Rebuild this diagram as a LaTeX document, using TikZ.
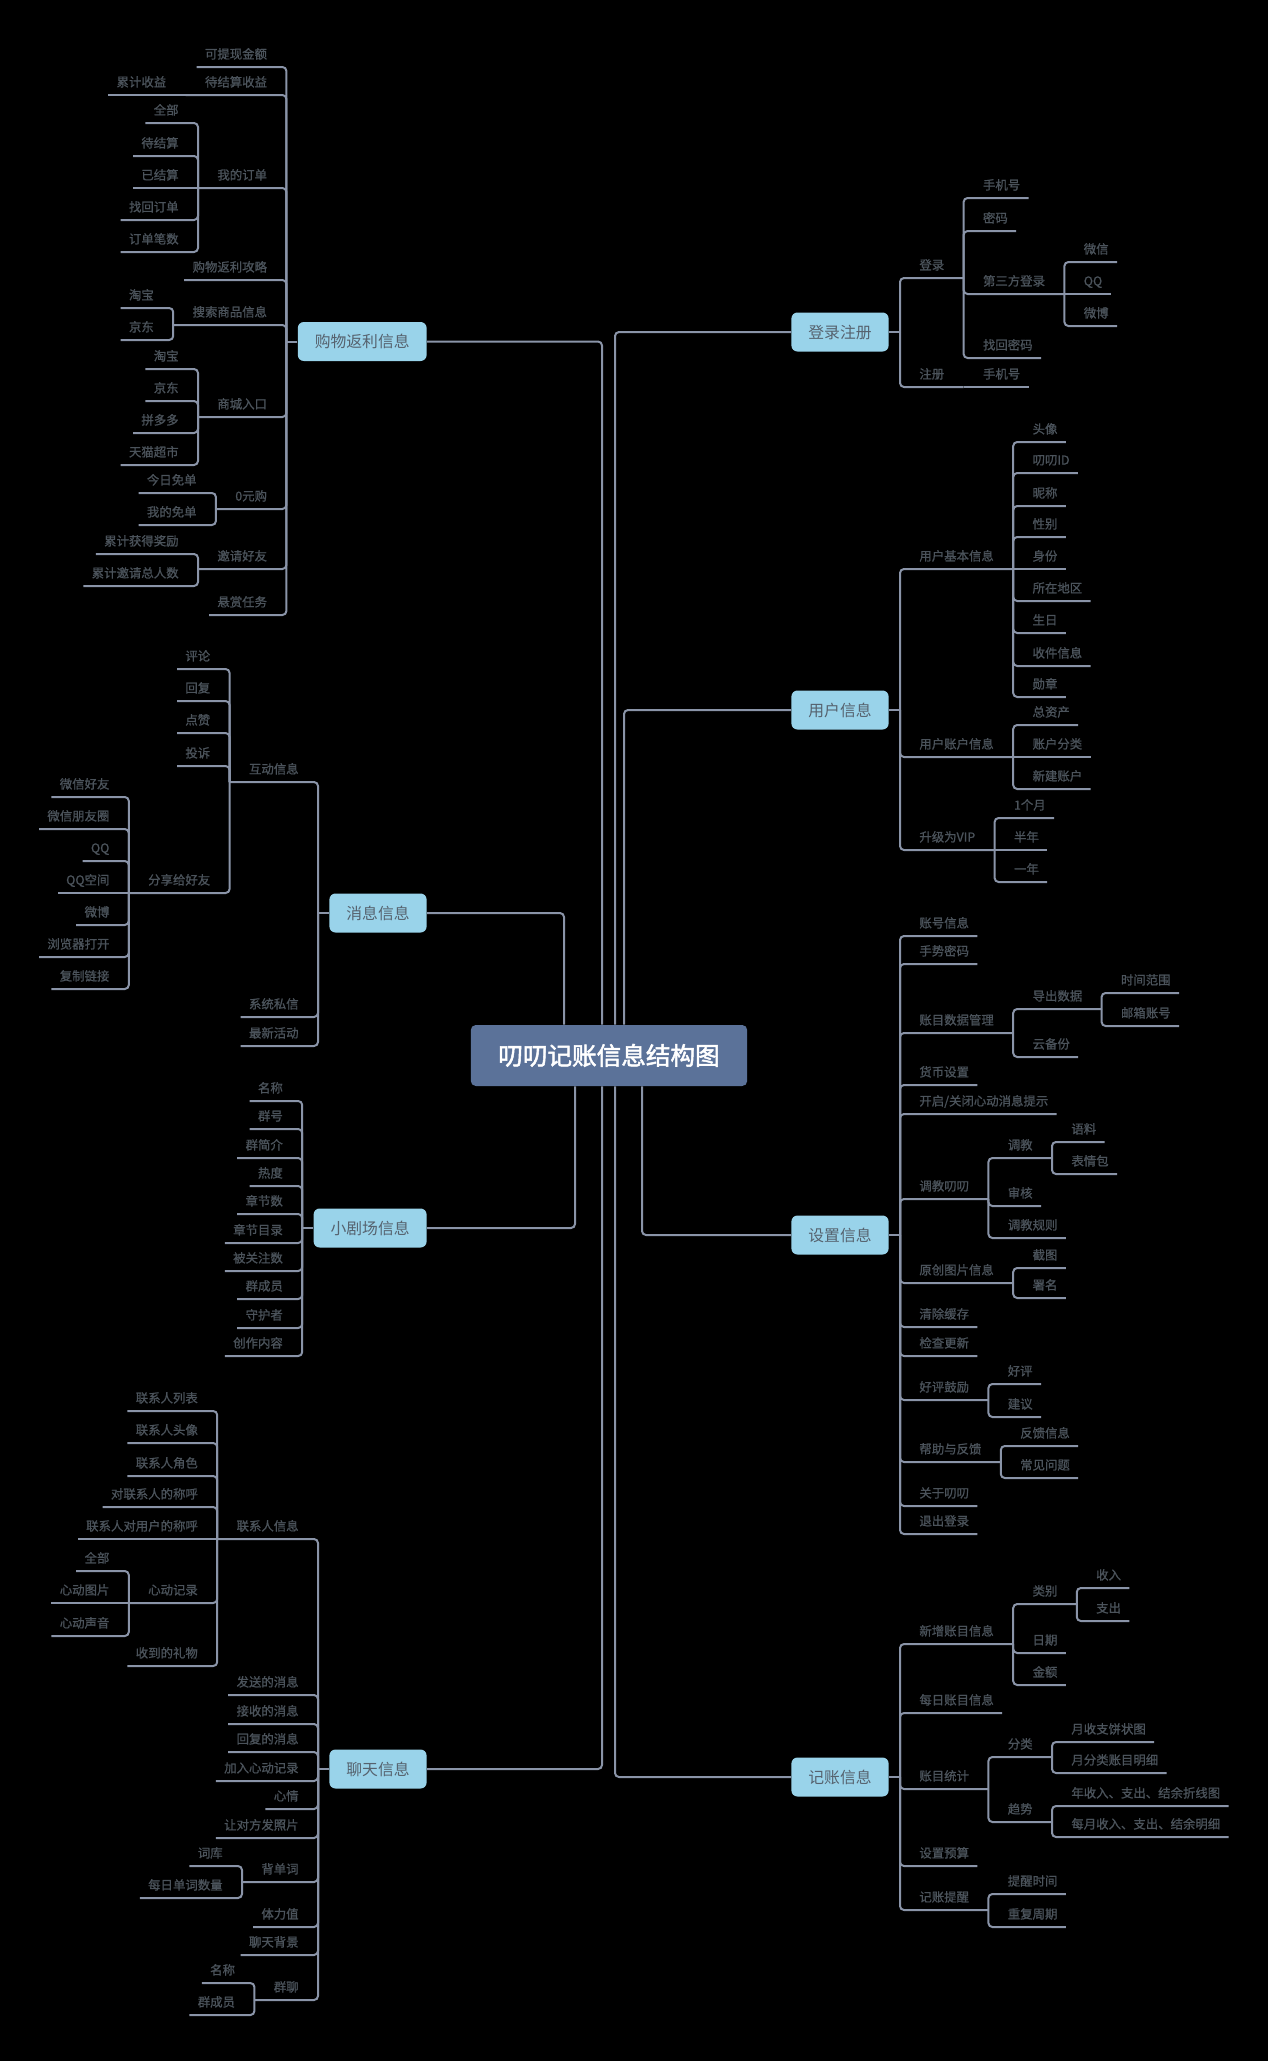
\documentclass[tikz,border=0pt]{standalone}
\usepackage{fontspec}
\newfontfamily\cjk{Noto Sans CJK SC}
\newfontfamily\cjkm[FakeBold=1]{Noto Sans CJK SC}
\newfontfamily\cjkbf[FakeBold=2]{Noto Sans CJK SC}

\definecolor{linec}{HTML}{8A94A8}
\definecolor{txtc}{HTML}{4B535B}
\definecolor{boxc}{HTML}{99D3EA}
\definecolor{boxtxt}{HTML}{56626E}
\definecolor{rootc}{HTML}{5B7299}

\tikzset{
  mmline/.style={draw=linec, line width=1pt},
  rpar/.style={anchor=south west, inner xsep=9.5pt, inner ysep=4pt, text height=5.46pt, text depth=0pt,
    text=txtc, font=\cjkm\fontsize{6.2pt}{7pt}\selectfont},
  rleaf/.style={rpar, inner xsep=4pt, xshift=5.5pt},
  lpar/.style={rpar, anchor=south east},
  lleaf/.style={lpar, inner xsep=4pt, xshift=-5.5pt},
  topic/.style={fill=boxc, rounded corners=3pt, text=boxtxt, font=\cjk\fontsize{7.9pt}{9pt}\selectfont,
    inner xsep=8.5pt, inner ysep=0pt, minimum height=19.5pt, text height=6.95pt, text depth=0.95pt},
  root/.style={fill=rootc, rounded corners=2.5pt, text=white, font=\cjkbf\fontsize{12.3pt}{14pt}\selectfont,
    inner xsep=13.75pt, inner ysep=0pt, minimum height=30.5pt, text height=10.8pt, text depth=1.5pt}
}

% children to the right of a junction: #1 junction, #2 parent y, #3 name/y/text/style
\newcommand{\rgrp}[3]{%
  \foreach \nm/\yy/\tx/\st in {#3} {
    \node[\st] (\nm) at (#1 |- 0,\yy) {\tx};
    \ifdim\yy pt=#2pt
      \draw[mmline] (#1) -- (\nm.south east);
    \else
      \draw[mmline, rounded corners=2pt] (#1) |- (\nm.south east);
    \fi
  }}
% children to the left of a junction
\newcommand{\lgrp}[3]{%
  \foreach \nm/\yy/\tx/\st in {#3} {
    \node[\st] (\nm) at (#1 |- 0,\yy) {\tx};
    \ifdim\yy pt=#2pt
      \draw[mmline] (#1) -- (\nm.south west);
    \else
      \draw[mmline, rounded corners=2pt] (#1) |- (\nm.south west);
    \fi
  }}

\begin{document}
\begin{tikzpicture}[x=0.5pt,y=-0.5pt]
  \fill[black] (0,0) rectangle (1268,2061); % background
  \useasboundingbox (0,0) rectangle (1268,2061);

  \node[root] (root) at (609,1055.5) {叨叨记账信息结构图}; % central topic

  % main topics
  \node[topic, anchor=east] (gwfl) at (427,341.5) {购物返利信息};
  \node[topic, anchor=east] (xxxx) at (427,913) {消息信息};
  \node[topic, anchor=east] (xjc) at (427,1228) {小剧场信息};
  \node[topic, anchor=east] (ltxx) at (427,1769) {聊天信息};
  \node[topic, anchor=west] (dlzc) at (791,332) {登录注册};
  \node[topic, anchor=west] (yhxx) at (791,710) {用户信息};
  \node[topic, anchor=west] (szxx) at (791,1235) {设置信息};
  \node[topic, anchor=west] (jzxx) at (791,1777) {记账信息};

  % trunk lines to the central topic
  \draw[mmline, rounded corners=2pt] (gwfl.east) -| ([xshift=-3.5pt]root.north);
  \draw[mmline, rounded corners=2pt] (xxxx.east) -| ([xshift=-22.5pt]root.north);
  \draw[mmline, rounded corners=2pt] (xjc.east) -| ([xshift=-17pt]root.south);
  \draw[mmline, rounded corners=2pt] (ltxx.east) -| ([xshift=-3.5pt]root.south);
  \draw[mmline, rounded corners=2pt] (dlzc.west) -| ([xshift=3pt]root.north);
  \draw[mmline, rounded corners=2pt] (yhxx.west) -| ([xshift=7.5pt]root.north);
  \draw[mmline, rounded corners=2pt] (szxx.west) -| ([xshift=16.5pt]root.south);
  \draw[mmline, rounded corners=2pt] (jzxx.west) -| ([xshift=3pt]root.south);

  % junctions beside the main topics
  \foreach \tp in {dlzc,yhxx,szxx,jzxx} {
    \coordinate (\tp b) at ([xshift=5.5pt]\tp.east);
    \draw[mmline] (\tp.east) -- (\tp b);
  }
  \foreach \tp in {gwfl,xxxx,xjc,ltxx} {
    \coordinate (\tp b) at ([xshift=-5.5pt]\tp.west);
    \draw[mmline] (\tp.west) -- (\tp b);
  }

  % 登录注册
  \rgrp{dlzcb}{-1}{dl/278/登录/rpar, zc/387/注册/rpar}
  \rgrp{dl.south east}{278}{dl1/198/手机号/rleaf, dl2/231/密码/rleaf, dl3/294/第三方登录/rpar, dl4/358/找回密码/rleaf}
  \rgrp{dl3.south east}{294}{dl31/262/微信/rleaf, dl32/294/QQ/rleaf, dl33/326/微博/rleaf}
  \rgrp{zc.south east}{387}{zc1/387/手机号/rleaf}

  % 用户信息
  \rgrp{yhxxb}{-1}{jb/569/用户基本信息/rpar, zh/757/用户账户信息/rpar, vip/850/升级为VIP/rpar}
  \rgrp{jb.south east}{569}{jb1/442/头像/rleaf, jb2/473/叨叨ID/rleaf, jb3/506/昵称/rleaf, jb4/537/性别/rleaf,
    jb5/569/身份/rleaf, jb6/601/所在地区/rleaf, jb7/633/生日/rleaf, jb8/666/收件信息/rleaf, jb9/697/勋章/rleaf}
  \rgrp{zh.south east}{757}{zh1/725/总资产/rleaf, zh2/757/账户分类/rleaf, zh3/789/新建账户/rleaf}
  \rgrp{vip.south east}{850}{vip1/818/1个月/rleaf, vip2/850/半年/rleaf, vip3/882/一年/rleaf}

  % 设置信息
  \rgrp{szxxb}{-1}{sz1/936/账号信息/rleaf, sz2/964/手势密码/rleaf, sz3/1033/账目数据管理/rpar, sz4/1085/货币设置/rleaf,
    sz5/1114/{开启/关闭心动消息提示}/rleaf, sz6/1199/调教叨叨/rpar, sz7/1283/原创图片信息/rpar, sz8/1327/清除缓存/rleaf,
    sz9/1356/检查更新/rleaf, sz10/1400/好评鼓励/rpar, sz11/1462/帮助与反馈/rpar, sz12/1506/关于叨叨/rleaf, sz13/1534/退出登录/rleaf}
  \rgrp{sz3.south east}{1033}{sz31/1009/导出数据/rpar, sz32/1057/云备份/rleaf}
  \rgrp{sz31.south east}{1009}{sz311/993/时间范围/rleaf, sz312/1026/邮箱账号/rleaf}
  \rgrp{sz6.south east}{1199}{sz61/1158/调教/rpar, sz62/1206/审核/rleaf, sz63/1238/调教规则/rleaf}
  \rgrp{sz61.south east}{1158}{sz611/1142/语料/rleaf, sz612/1174/表情包/rleaf}
  \rgrp{sz7.south east}{1283}{sz71/1268/截图/rleaf, sz72/1298/署名/rleaf}
  \rgrp{sz10.south east}{1400}{sz101/1384/好评/rleaf, sz102/1417/建议/rleaf}
  \rgrp{sz11.south east}{1462}{sz111/1446/反馈信息/rleaf, sz112/1478/常见问题/rleaf}

  % 记账信息
  \rgrp{jzxxb}{-1}{jz1/1644/新增账目信息/rpar, jz2/1713/每日账目信息/rleaf, jz3/1789/账目统计/rpar,
    jz4/1866/设置预算/rleaf, jz5/1910/记账提醒/rpar}
  \rgrp{jz1.south east}{1644}{jz11/1604/类别/rpar, jz12/1653/日期/rleaf, jz13/1685/金额/rleaf}
  \rgrp{jz11.south east}{1604}{jz111/1588/收入/rleaf, jz112/1621/支出/rleaf}
  \rgrp{jz3.south east}{1789}{jz31/1757/分类/rpar, jz32/1822/趋势/rpar}
  \rgrp{jz31.south east}{1757}{jz311/1742/月收支饼状图/rleaf, jz312/1773/月分类账目明细/rleaf}
  \rgrp{jz32.south east}{1822}{jz321/1806/年收入、支出、结余折线图/rleaf, jz322/1837/每月收入、支出、结余明细/rleaf}
  \rgrp{jz5.south east}{1910}{jz51/1894/提醒时间/rleaf, jz52/1927/重复周期/rleaf}

  % 购物返利信息
  \lgrp{gwflb}{-1}{gw1/67/可提现金额/lleaf, gw2/95/待结算收益/lpar, gw3/188/我的订单/lpar, gw4/280/购物返利攻略/lleaf,
    gw5/325/搜索商品信息/lpar, gw6/417/商城入口/lpar, gw7/509/0元购/lpar, gw8/569/邀请好友/lpar, gw9/615/悬赏任务/lleaf}
  \lgrp{gw2.south west}{95}{gw21/95/累计收益/lleaf}
  \lgrp{gw3.south west}{188}{gw31/123/全部/lleaf, gw32/156/待结算/lleaf, gw33/188/已结算/lleaf, gw34/220/找回订单/lleaf, gw35/252/订单笔数/lleaf}
  \lgrp{gw5.south west}{325}{gw51/308/淘宝/lleaf, gw52/340/京东/lleaf}
  \lgrp{gw6.south west}{417}{gw61/369/淘宝/lleaf, gw62/401/京东/lleaf, gw63/433/拼多多/lleaf, gw64/465/天猫超市/lleaf}
  \lgrp{gw7.south west}{509}{gw71/493/今日免单/lleaf, gw72/525/我的免单/lleaf}
  \lgrp{gw8.south west}{569}{gw81/554/累计获得奖励/lleaf, gw82/586/累计邀请总人数/lleaf}

  % 消息信息
  \lgrp{xxxxb}{-1}{xx1/782/互动信息/lpar, xx2/1017/系统私信/lleaf, xx3/1046/最新活动/lleaf}
  \lgrp{xx1.south west}{782}{xx11/669/评论/lleaf, xx12/701/回复/lleaf, xx13/733/点赞/lleaf, xx14/766/投诉/lleaf, xx15/893/分享给好友/lpar}
  \lgrp{xx15.south west}{893}{xx151/797/微信好友/lleaf, xx152/829/微信朋友圈/lleaf, xx153/861/QQ/lleaf, xx154/893/QQ空间/lleaf,
    xx155/925/微博/lleaf, xx156/957/浏览器打开/lleaf, xx157/989/复制链接/lleaf}

  % 小剧场信息
  \lgrp{xjcb}{-1}{xj1/1101/名称/lleaf, xj2/1129/群号/lleaf, xj3/1158/群简介/lleaf, xj4/1186/热度/lleaf, xj5/1214/章节数/lleaf,
    xj6/1243/章节目录/lleaf, xj7/1271/被关注数/lleaf, xj8/1299/群成员/lleaf, xj9/1328/守护者/lleaf, xj10/1356/创作内容/lleaf}

  % 聊天信息
  \lgrp{ltxxb}{-1}{lt1/1539/联系人信息/lpar, lt2/1695/发送的消息/lleaf, lt3/1724/接收的消息/lleaf, lt4/1752/回复的消息/lleaf,
    lt5/1781/加入心动记录/lleaf, lt6/1809/心情/lleaf, lt7/1838/让对方发照片/lleaf, lt8/1882/背单词/lpar,
    lt9/1927/体力值/lleaf, lt10/1955/聊天背景/lleaf, lt11/2000/群聊/lpar}
  \lgrp{lt1.south west}{1539}{lta1/1411/联系人列表/lleaf, lta2/1443/联系人头像/lleaf, lta3/1476/联系人角色/lleaf,
    lta4/1507/对联系人的称呼/lleaf, lta5/1539/联系人对用户的称呼/lleaf, lta6/1603/心动记录/lpar, lta7/1666/收到的礼物/lleaf}
  \lgrp{lta6.south west}{1603}{ltb1/1571/全部/lleaf, ltb2/1603/心动图片/lleaf, ltb3/1636/心动声音/lleaf}
  \lgrp{lt8.south west}{1882}{ltc1/1866/词库/lleaf, ltc2/1898/每日单词数量/lleaf}
  \lgrp{lt11.south west}{2000}{ltd1/1983/名称/lleaf, ltd2/2015/群成员/lleaf}
\end{tikzpicture}
\end{document}
